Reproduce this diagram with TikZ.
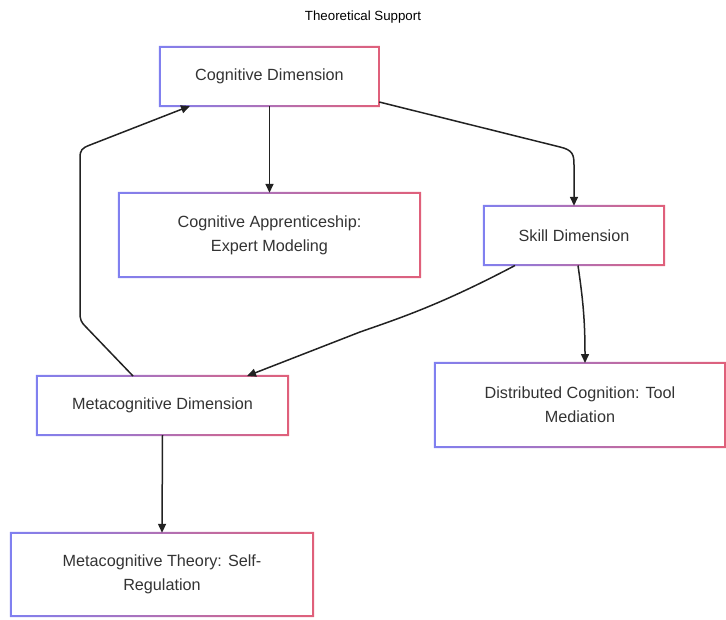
\documentclass[tikz,border=0pt]{standalone}
\usepackage{fontspec}
\setmainfont{Liberation Sans}
\usetikzlibrary{arrows.meta,calc}
\definecolor{txt}{HTML}{333333}
\definecolor{bordL}{HTML}{8080F0}
\definecolor{bordR}{HTML}{E0607A}
\definecolor{lnk}{HTML}{222222}
\tikzset{
  box/.style={minimum width=#1, align=center, text=txt, font=\fontsize{16.2}{24}\selectfont, inner sep=0pt},
  link/.style={draw=lnk, line width=1.5pt, -{Triangle[length=9pt,width=8pt]}},
}
\newcommand{\gframe}[1]{%
  \path[left color=bordL, right color=bordR, even odd rule]
    ($(#1.south west)+(-1pt,-1pt)$) rectangle ($(#1.north east)+(1pt,1pt)$)
    ($(#1.south west)+(1pt,1pt)$) rectangle ($(#1.north east)+(-1pt,-1pt)$);}
\begin{document}
\begin{tikzpicture}[x=1pt,y=-1pt]
\useasboundingbox (0,0) rectangle (726,619);
\node[text=black, font=\fontsize{13.3}{16}\selectfont] (title) at (363,17) {Theoretical Support};
\node[box=219pt, minimum height=59pt] (cog) at (269.5,76.5) {Cognitive Dimension};
\node[box=301pt, minimum height=84pt] (app) at (269.5,235) {Cognitive Apprenticeship:\\Expert Modeling};
\node[box=180pt, minimum height=59pt] (skill) at (574,235.5) {Skill Dimension};
\node[box=251pt, minimum height=59pt] (meta) at (162.5,405.5) {Metacognitive Dimension};
\node[box=290pt, minimum height=84pt] (dist) at (580,405) {Distributed Cognition: Tool\\Mediation};
\node[box=302pt, minimum height=83pt] (mt) at (162,574.5) {Metacognitive Theory: Self-\\Regulation};
\foreach \n in {cog,app,skill,meta,dist,mt} {\gframe{\n}}
\draw[link] (cog.south) -- (app.north);
\draw[link] (meta.south) -- (mt.north);
\draw[link] (cog.east|-0,102) -- (560,147) .. controls (573,150) and (574,155) .. (574,165) -- (skill.north);
\coordinate (s1) at (515,265.5);
\draw[link] (s1) .. controls (440,305) and (400,318) .. (360,332) -- (247,376);
\coordinate (s2) at (578,265.5);
\draw[link] (s2) .. controls (583,300) and (585,320) .. (585,363);
\coordinate (m1) at (133,376);
\coordinate (c1) at (190,106);
\draw[link] (m1) -- (86,327) .. controls (81,322) and (80,320) .. (80,312) -- (80,158) .. controls (80,150) and (82,148) .. (90,145) -- (c1);
\end{tikzpicture}
\end{document}
